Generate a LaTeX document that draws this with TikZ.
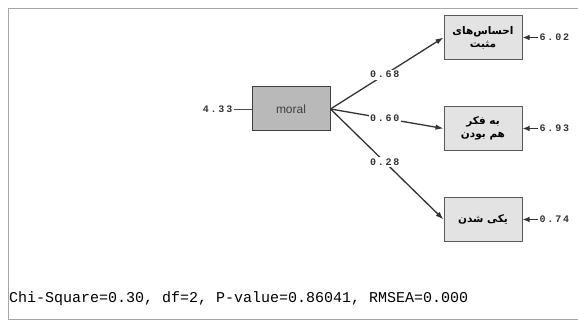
\documentclass[tikz,border=0pt]{standalone}
\usepackage{fontspec}
\setmainfont{Liberation Sans}
\newfontfamily\monofont{Liberation Mono}
\newfontfamily\numfont[LetterSpace=18]{Liberation Mono}
\newfontfamily\arabicfont[Script=Arabic]{DejaVu Sans}
\TeXXeTstate=1
\usetikzlibrary{arrows.meta}

\begin{document}
\begin{tikzpicture}[x=1pt,y=1pt,
    itembox/.style={draw=gray!70!black,fill=gray!22,line width=1pt,minimum width=78pt,minimum height=44pt,
      align=center,inner sep=1pt,font=\arabicfont\bfseries\fontsize{10.5}{13}\selectfont},
    latentbox/.style={draw=gray!50!black,fill=gray!55,line width=1pt,minimum width=78pt,minimum height=44pt,
      font=\fontsize{12}{14}\selectfont,text=black!75},
    numlabel/.style={font=\numfont\bfseries\fontsize{10}{12}\selectfont,inner sep=1.5pt,text=black!80},
    path/.style={-{Latex[length=8pt,width=5.5pt]},line width=1.3pt,black!80},
    errpath/.style={-{Latex[length=7pt,width=5.5pt]},line width=1.2pt,black!80}]
    \useasboundingbox (0,0) rectangle (578,321);
    % ===== frame =====
    \draw[gray!70,line width=1pt] (578,312) -- (8,312) -- (8,1) -- (578,1);
    % ===== latent variable =====
    \node[latentbox] (moral) at (291,212) {moral};
    \node[numlabel,anchor=east] (emoral) at (234,212) {4.33};
    \draw[line width=0.8pt,black!70] (emoral.east) -- (moral.west);
    % ===== indicators =====
    \node[itembox] (item1) at (483,283.5) {\beginR احساس‌های\endR\\\beginR مثبت\endR};
    \node[itembox] (item2) at (483,192.5) {\beginR به فکر\endR\\\beginR هم بودن\endR};
    \node[itembox] (item3) at (483,101.5) {\beginR یکی شدن\endR};
    % ===== loadings =====
    \draw[path] (moral.east) -- node[pos=0.48,numlabel,fill=white] {0.68} (item1.west);
    \draw[path] (moral.east) -- node[pos=0.48,numlabel,fill=white] {0.60} (item2.west);
    \draw[path] (moral.east) -- node[pos=0.48,numlabel,fill=white] {0.28} (item3.west);
    % ===== error variances =====
    \node[numlabel,anchor=west] (e1) at (538,283.5) {6.02};
    \node[numlabel,anchor=west] (e2) at (538,192.5) {6.93};
    \node[numlabel,anchor=west] (e3) at (538,101.5) {0.74};
    \draw[errpath] (e1.west) -- (item1.east);
    \draw[errpath] (e2.west) -- (item2.east);
    \draw[errpath] (e3.west) -- (item3.east);
    % ===== fit statistics =====
    \node[anchor=base west,inner sep=0pt,font=\monofont\fontsize{15}{16}\selectfont] (fit) at (9,18)
      {Chi-Square=0.30, df=2, P-value=0.86041, RMSEA=0.000};
\end{tikzpicture}
\end{document}
